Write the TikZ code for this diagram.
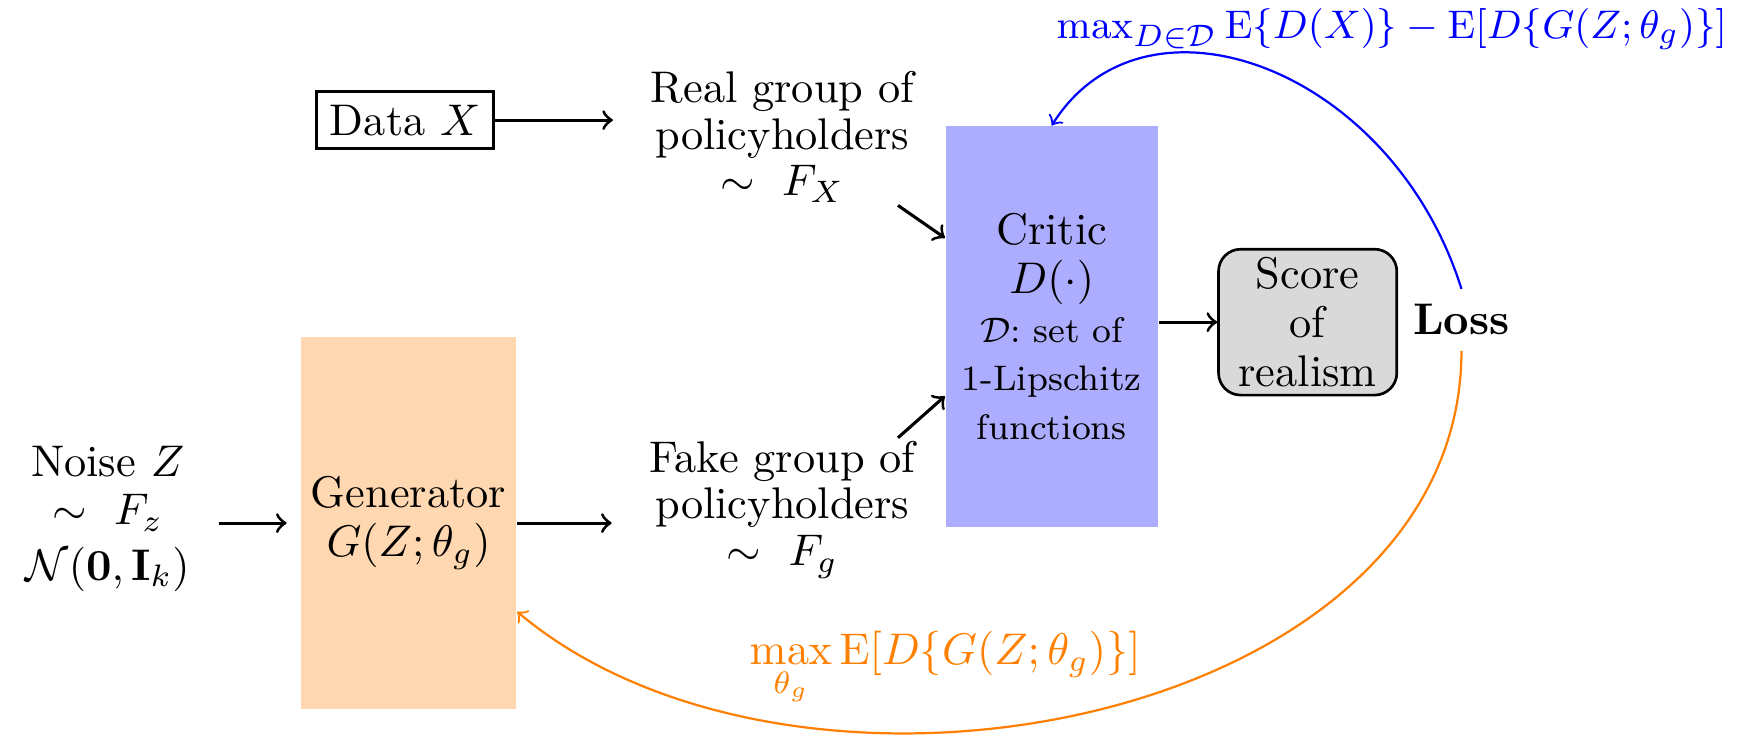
\documentclass[tikz,border=0pt]{standalone}
\usepackage{amsmath,amssymb}
\begin{document}
\begin{tikzpicture}[x=0.0089cm,y=-0.0089cm,
  every node/.style={font=\fontsize{10}{11}\selectfont, align=center},
  arr/.style={->, line width=0.7pt, >=to},
  curve/.style={->, line width=0.5pt, >=to},
  txt/.style={font=\fontsize{10}{10.5}\selectfont},
  critbox/.style={fill=blue!32, minimum width=47.8pt, minimum height=90.3pt, inner sep=1pt},
  genbox/.style={fill=orange!31, minimum width=48.6pt, minimum height=84pt, inner sep=1pt},
  scorebox/.style={draw, line width=0.6pt, rounded corners=5pt, fill=gray!30, minimum width=40.2pt, minimum height=32.9pt, inner sep=1pt}]
\useasboundingbox (0,0) rectangle (1568,660);
\node[draw, line width=0.6pt, inner sep=3pt] (data) at (361,107) {Data $X$};
\node[txt] (real) at (697,122) {Real group of\\policyholders\\$\sim\ F_X$};
\node[critbox, font=\fontsize{10}{11}\selectfont] (critic) at (937,291) {Critic\\$D(\cdot)$\\{\fontsize{8}{11}\selectfont $\mathcal{D}$:\ set of}\\{\fontsize{8}{11}\selectfont 1-Lipschitz}\\{\fontsize{8}{11}\selectfont functions}};
\node[txt] (fake) at (697,454) {Fake group of\\policyholders\\$\sim\ F_g$};
\node[font=\fontsize{10}{11}\selectfont] (noise) at (96,462) {Noise $Z$\\$\sim\ F_z$\\[1.5pt]$\mathcal{N}(\mathbf{0},\mathbf{I}_k)$};
\node[genbox] (gen) at (364,466) {Generator\\$G(Z;\theta_g)$};
\node[scorebox] (score) at (1165,287) {Score\\of\\realism};
\node (loss) at (1302,285) {\textbf{Loss}};
\node[text=blue, font=\fontsize{9.5}{11}\selectfont] (blab) at (1240,26) {$\max_{D\in\mathcal{D}}\mathrm{E}\{D(X)\}-\mathrm{E}[D\{G(Z;\theta_g)\}]$};
\node[text=orange] (olab) at (842,596) {$\max\limits_{\theta_g}\mathrm{E}[D\{G(Z;\theta_g)\}]$};
% arrows
\draw[arr, shorten >=5pt] (data.east) -- (real.west |- data.east);
\draw[arr] (800,183) -- (critic.west |- 0,212);
\draw[arr] (800,390) -- (critic.west |- 0,353);
\draw[arr, shorten <=3pt, shorten >=3pt] (noise.east |- gen.west) -- (gen.west);
\draw[arr, shorten >=5pt] (gen.east) -- (fake.west |- gen.east);
\draw[arr] (critic.east |- score.west) -- (score.west);
\draw[curve, blue] (loss.north) .. controls (1240,60) and (1020,-20) .. (critic.north);
\draw[curve, orange] (loss.south) to[out=-90, in=-40, looseness=0.97] (gen.east |- 0,545);
\end{tikzpicture}
\end{document}
